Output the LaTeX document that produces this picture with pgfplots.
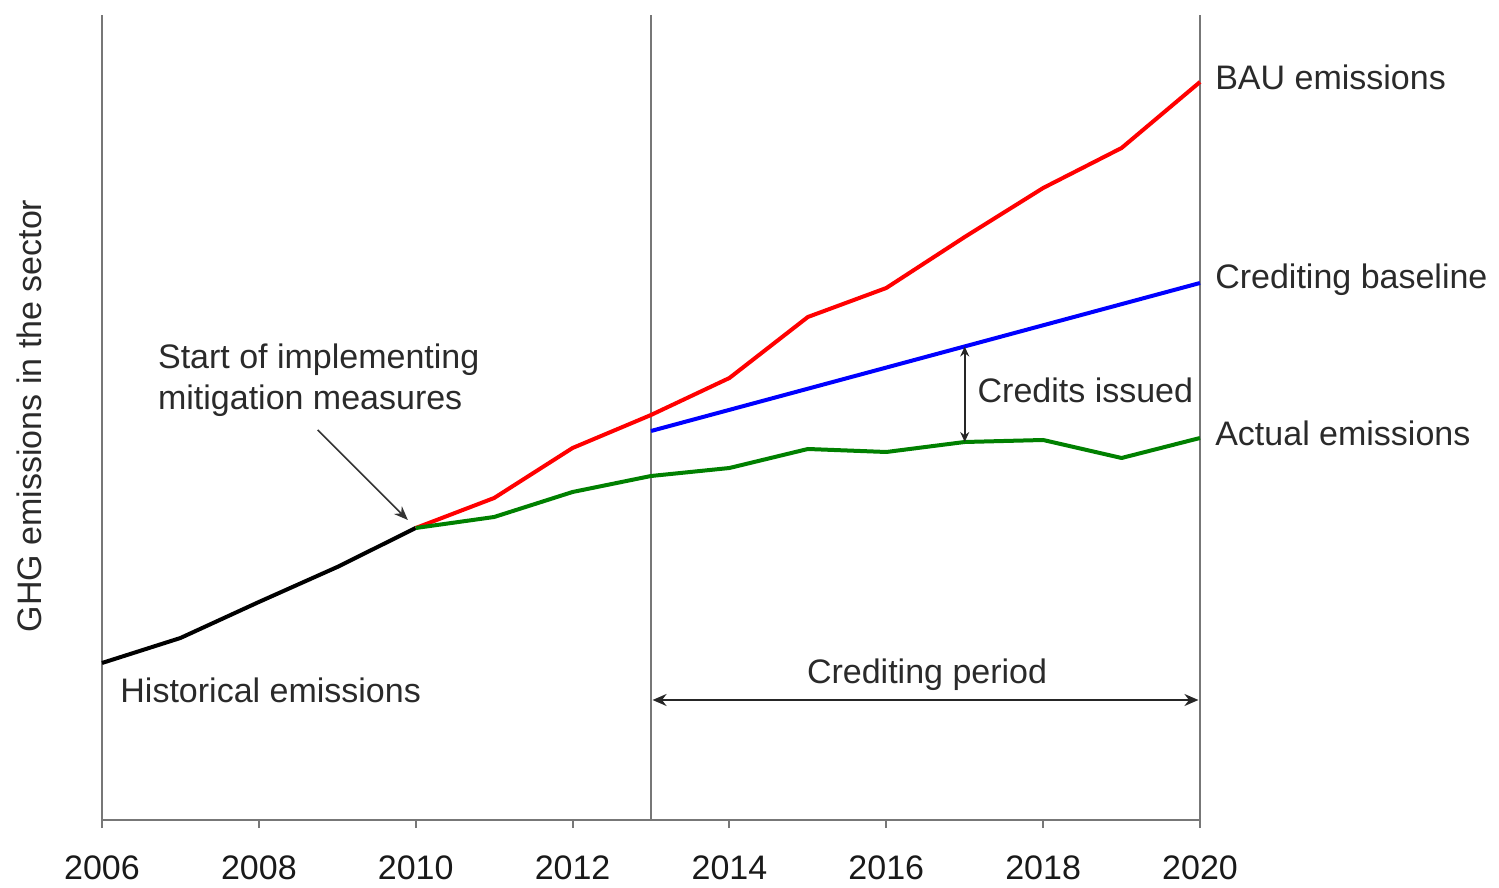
\documentclass[border=0pt]{standalone}
\usepackage{pgfplots}
\pgfplotsset{compat=1.18}
\usepackage{fontspec}
\setmainfont{Liberation Sans}
\usetikzlibrary{arrows.meta}
\definecolor{txt}{HTML}{2A2A2A}
\definecolor{axgray}{HTML}{777777}
\definecolor{bau}{HTML}{FF0000}
\definecolor{base}{HTML}{0000FF}
\definecolor{act}{HTML}{008000}
\begin{document}
\fontsize{17bp}{20.5bp}\selectfont
\begin{tikzpicture}
\path[use as bounding box] (0,0) rectangle (749.5bp,444bp);
\begin{axis}[
  at={(51bp,34bp)}, anchor=south west,
  scale only axis, width=549bp, height=402.5bp,
  xmin=2006, xmax=2020, ymin=0, ymax=805,
  axis x line=bottom, axis y line=left,
  axis line style={axgray, line width=1bp, -},
  xtick={2006,2008,...,2020}, ytick=\empty,
  tick align=outside, major tick length=4bp,
  tick style={axgray, line width=1bp},
  /pgf/number format/assume math mode=true,
  /pgf/number format/1000 sep={},
  xticklabel style={text=black!90, font=\fontsize{17bp}{20bp}\selectfont, yshift=-8bp},
  clip=false,
]
% vertical lines
\draw[axgray, line width=1bp] (axis cs:2013,0) -- (axis cs:2013,805);
\draw[axgray, line width=1bp] (axis cs:2020,0) -- (axis cs:2020,805);

\addplot[black, line width=2bp, line join=round] coordinates {
(2006,157) (2007,182) (2008,218) (2009,253) (2010,292)};
\addplot[bau, line width=2bp, line join=round] coordinates {
(2010,292) (2011,322) (2012,372) (2013,405) (2014,442) (2015,503) (2016,532) (2017,583) (2018,632) (2019,672) (2020,738)};
\addplot[act, line width=2bp, line join=round] coordinates {
(2010,292) (2011,303) (2012,328) (2013,344) (2014,352) (2015,371) (2016,368) (2017,378) (2018,380) (2019,362) (2020,382)};
\addplot[base, line width=2bp] coordinates {(2013,389) (2020,537)};

% annotations
\draw[black!85, line width=0.8bp, {Stealth[length=5bp,width=4.5bp]}-{Stealth[length=5bp,width=4.5bp]}] (axis cs:2017,378) -- (axis cs:2017,473.5);
\draw[black!85, line width=0.9bp, {Stealth[length=7bp,width=6bp]}-{Stealth[length=7bp,width=6bp]}] (axis cs:2013.02,120) -- (axis cs:2019.98,120);
\draw[black!80, line width=0.8bp, -{Stealth[length=7bp,width=5.5bp]}] (axis cs:2008.75,390) -- (axis cs:2009.9,300);

\node[anchor=west, text=txt, inner sep=0pt] at (axis cs:2020.19,743) {BAU emissions};
\node[anchor=west, text=txt, inner sep=0pt] at (axis cs:2020.19,540) {Crediting baseline};
\node[anchor=west, text=txt, inner sep=0pt] at (axis cs:2020.19,387) {Actual emissions};
\node[anchor=west, text=txt, inner sep=0pt] at (axis cs:2017.16,430) {Credits issued};
\node[text=txt, inner sep=0pt] at (axis cs:2016.52,145) {Crediting period};
\node[anchor=west, text=txt, inner sep=0pt] at (axis cs:2006.23,130) {Historical emissions};
\node[anchor=west, text=txt, inner sep=0pt, align=left] at (axis cs:2006.71,440) {Start of implementing\\mitigation measures};
\node[rotate=90, text=txt, inner sep=0pt] at (axis cs:2005.08,404) {GHG emissions in the sector};
\end{axis}
\end{tikzpicture}
\end{document}
